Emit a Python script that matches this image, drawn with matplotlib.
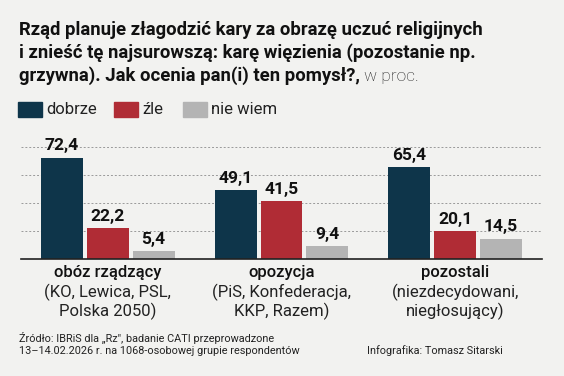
import numpy as np
import matplotlib
matplotlib.use('Agg')
import matplotlib.pyplot as plt
from matplotlib import font_manager

groups = ['obóz rządzący\n(KO, Lewica, PSL,\nPolska 2050)',
          'opozycja\n(PiS, Konfederacja,\nKKP, Razem)',
          'pozostali\n(niezdecydowani,\nniegłosujący)']
series = ['dobrze', 'źle', 'nie wiem']
dobrze = [72.4, 49.1, 65.4]
zle = [22.2, 41.5, 20.1]
nie_wiem = [5.4, 9.4, 14.5]
colors = ['#0e354a', '#b02c35', '#b4b4b4']

fonts = sorted({(f.name, f.weight, f.stretch) for f in font_manager.fontManager.ttflist
                if 'Roboto' in f.name or 'Liberation' in f.name or 'DejaVu' in f.name})
print(fonts)
names = {f.name for f in font_manager.fontManager.ttflist}
narrow = 'Liberation Sans Narrow' if 'Liberation Sans Narrow' in names else 'Roboto'

bg = '#f2f2f0'
fig = plt.figure(figsize=(5.64, 3.76), dpi=100, facecolor=bg)
ax = fig.add_axes([21 / 564, 1 - 259 / 376, 521 / 564, 112 / 376], facecolor=bg)

x = np.arange(len(groups))
step, width = 0.264, 0.241
for i, (vals, c) in enumerate(zip([dobrze, zle, nie_wiem], colors)):
    bars = ax.bar(x + (i - 1) * step, vals, width, color=c, zorder=3)
    for b, v in zip(bars, vals):
        ax.text(b.get_x() + b.get_width() / 2, v + 3, f'{v:.1f}'.replace('.', ','),
                ha='center', va='bottom', fontsize=12.5, fontweight='bold',
                family=narrow, color='#111111', zorder=4, clip_on=False)

ax.set_xlim(-0.5, 2.5)
ax.set_ylim(0, 80)
ax.set_yticks([20, 40, 60, 80])
ax.yaxis.grid(True, linestyle=(0, (2, 2)), color='#9a9a9a', linewidth=0.7, zorder=0)
ax.tick_params(left=False, bottom=False, labelleft=False)
for s in ['left', 'right', 'top']:
    ax.spines[s].set_visible(False)
ax.spines['bottom'].set_color('#222222')
ax.spines['bottom'].set_linewidth(1.2)
ax.spines['bottom'].set_zorder(5)

ax.set_xticks(x)
ax.set_xticklabels([])
trans = ax.get_xaxis_transform()
for xi, g in zip(x, groups):
    head, l2, l3 = g.split('\n')
    ax.text(xi, (259 - 273) / 112, head, ha='center', va='center', fontsize=12,
            fontweight='medium', family='Roboto', color='#111111', transform=trans)
    ax.text(xi, (259 - 292) / 112, l2, ha='center', va='center', fontsize=12,
            family='Roboto', color='#222222', transform=trans)
    ax.text(xi, (259 - 311) / 112, l3, ha='center', va='center', fontsize=12,
            family='Roboto', color='#222222', transform=trans)

# title
title_lines = ['Rząd planuje złagodzić kary za obrazę uczuć religijnych',
               'i znieść tę najsurowszą: karę więzienia (pozostanie np.',
               'grzywna). Jak ocenia pan(i) ten pomysł?,']
for k, line in enumerate(title_lines):
    t = fig.text(19 / 564, 1 - (30 + k * 23) / 376, line, ha='left', va='center',
                 fontsize=13.3, fontweight='bold', family=narrow, color='#111111')
fig.canvas.draw()
bb = t.get_window_extent()
fig.text(bb.x1 / 564 + 4 / 564, 1 - 76 / 376, 'w proc.', ha='left', va='center',
         fontsize=12.5, family='Roboto', fontweight='light', color='#222222')

# legend
lx = [18, 114, 183]
for xl, name, c in zip(lx, series, colors):
    fig.patches.append(plt.Rectangle((xl / 564, 1 - 117 / 376), 24 / 564, 15 / 376,
                                     transform=fig.transFigure, color=c, figure=fig))
    fig.text((xl + 28) / 564, 1 - 109.5 / 376, name, ha='left', va='center',
             fontsize=12, family='Roboto', color='#222222')

# footer
fig.text(19 / 564, 1 - 338 / 376, 'Źródło: IBRiS dla „Rz", badanie CATI przeprowadzone',
         ha='left', va='center', fontsize=7.8, family=narrow, color='#222222')
fig.text(19 / 564, 1 - 351 / 376, '13–14.02.2026 r. na 1068-osobowej grupie respondentów',
         ha='left', va='center', fontsize=7.8, family=narrow, color='#222222')
fig.text(503 / 564, 1 - 351 / 376, 'Infografika: Tomasz Sitarski',
         ha='right', va='center', fontsize=7.8, family=narrow, color='#222222')

fig.savefig('out.png', dpi=100, facecolor=bg)
